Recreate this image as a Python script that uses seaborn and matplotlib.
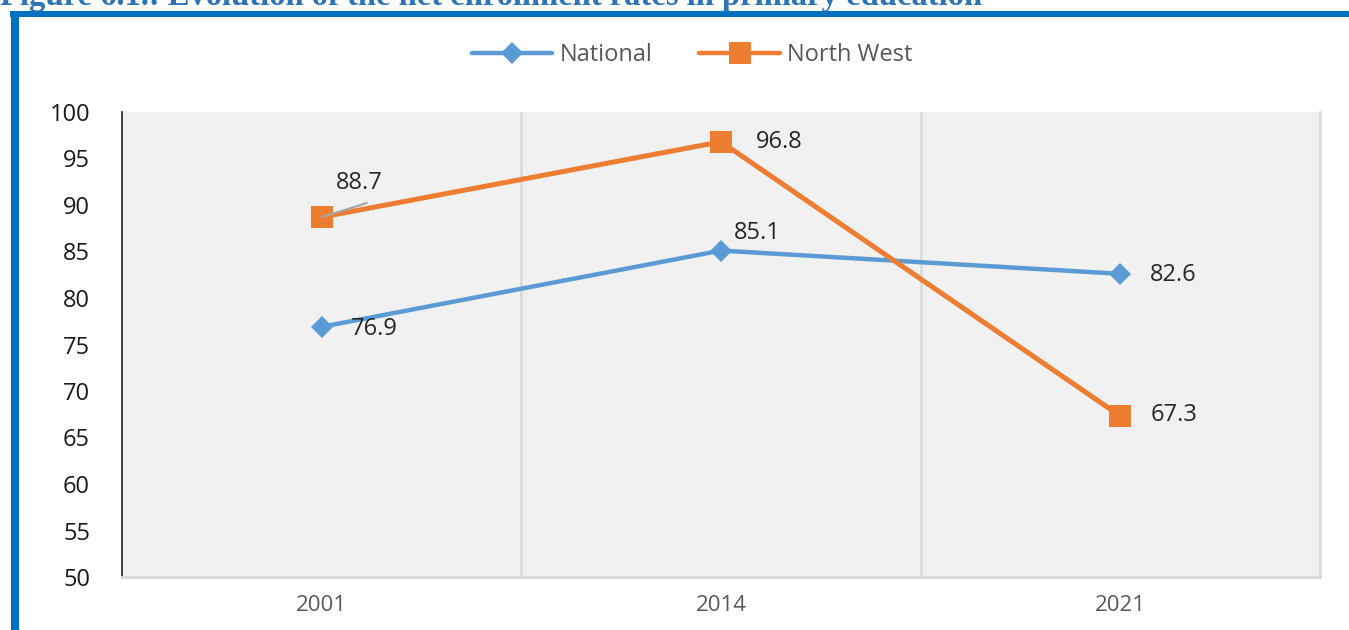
import pandas as pd
import matplotlib.pyplot as plt
import matplotlib.patches as mpatches
import seaborn as sns

# Data
years = ["2001", "2014", "2021"]
national = [76.9, 85.1, 82.6]
north_west = [88.7, 96.8, 67.3]
series_names = ["National", "North West"]
y_ticks = [50, 55, 60, 65, 70, 75, 80, 85, 90, 95, 100]

df = pd.DataFrame({
    "pos": list(range(len(years))) * 2,
    "year": years * 2,
    "value": national + north_west,
    "series": [series_names[0]] * 3 + [series_names[1]] * 3,
})

sns.set_style("white")
plt.rcParams["font.family"] = ["Open Sans", "DejaVu Sans"]

W, H = 1349, 630
fig = plt.figure(figsize=(W / 100, H / 100), dpi=100)
ax = fig.add_axes([122 / W, (H - 577) / H, 1198 / W, 465 / H])
ax.set_facecolor("#F1F1F1")

colors = {"National": "#5B9BD5", "North West": "#ED7D31"}
sns.lineplot(data=df, x="pos", y="value", hue="series", style="series",
             palette=colors, markers={"National": "D", "North West": "s"},
             dashes=False, linewidth=3.2, markersize=13, markeredgewidth=0,
             ax=ax, legend=True)
for line in ax.lines:
    if line.get_marker() == "s":
        line.set_markersize(16)
        line.set_linewidth(3.6)
    elif line.get_marker() == "D":
        line.set_markersize(11)

ax.set_xlim(-0.5, 2.5)
ax.set_ylim(50, 100)
ax.set_yticks(y_ticks)
ax.set_yticklabels([str(t) for t in y_ticks], fontsize=17, color="#1a1a1a")
ax.set_xticks(range(len(years)))
ax.set_xticklabels(years, fontsize=16, color="#595959")
ax.tick_params(axis="x", length=0, pad=13)
ax.tick_params(axis="y", length=0, pad=23)
ax.set_xlabel("")
ax.set_ylabel("")

for xv in [0.5, 1.5]:
    ax.axvline(xv, color="#D9D9D9", lw=1.8, zorder=0)

ax.spines["left"].set_color("#222222")
ax.spines["left"].set_linewidth(1.2)
ax.spines["bottom"].set_color("#D9D9D9")
ax.spines["bottom"].set_linewidth(2)
ax.spines["right"].set_visible(True)
ax.spines["right"].set_color("#D9D9D9")
ax.spines["right"].set_linewidth(2)
ax.spines["top"].set_visible(False)

# data labels (offsets in pixels)
offsets = {
    ("National", 0): (29, -2), ("National", 1): (13, 18), ("National", 2): (30, -1),
    ("North West", 0): (14, 34), ("North West", 1): (35, 0), ("North West", 2): (30, 1),
}
for name, vals in [("National", national), ("North West", north_west)]:
    for i, v in enumerate(vals):
        ax.annotate(f"{v:.1f}", xy=(i, v), xytext=offsets[(name, i)],
                    textcoords="offset pixels", ha="left", va="center",
                    fontsize=17, color="#262626")
# leader line for 88.7
ax.annotate("", xy=(0, north_west[0]), xytext=(45, 14), textcoords="offset pixels",
            arrowprops=dict(arrowstyle="-", color="#A6A6A6", lw=1.5,
                            shrinkA=0, shrinkB=0))

# legend
handles, labels = ax.get_legend_handles_labels()
for h in handles:
    h.set_linewidth(3.2)
ax.legend(handles, labels, loc="center", bbox_to_anchor=(692 / W, 1 - 55 / H),
          bbox_transform=fig.transFigure, ncol=2, frameon=False,
          fontsize=17, labelcolor="#595959", handlelength=3.4,
          columnspacing=2.0, handletextpad=0.3)

# blue frame and cropped title
fig.add_artist(mpatches.Rectangle((10 / W, 1 - 17 / H), 1 - 10 / W, 6 / H,
                                  transform=fig.transFigure, color="#0070C0", lw=0))
fig.add_artist(mpatches.Rectangle((11 / W, 0), 8 / W, 1 - 11 / H,
                                  transform=fig.transFigure, color="#0070C0", lw=0))
fig.text(0, 1 - 5 / H, "Figure 6.1.: Evolution of the net enrollment rates in primary education",
         fontsize=23.5, fontweight="bold", color="#2E74B5", va="baseline", ha="left",
         family="Liberation Serif")

fig.savefig("out.png", dpi=100)
